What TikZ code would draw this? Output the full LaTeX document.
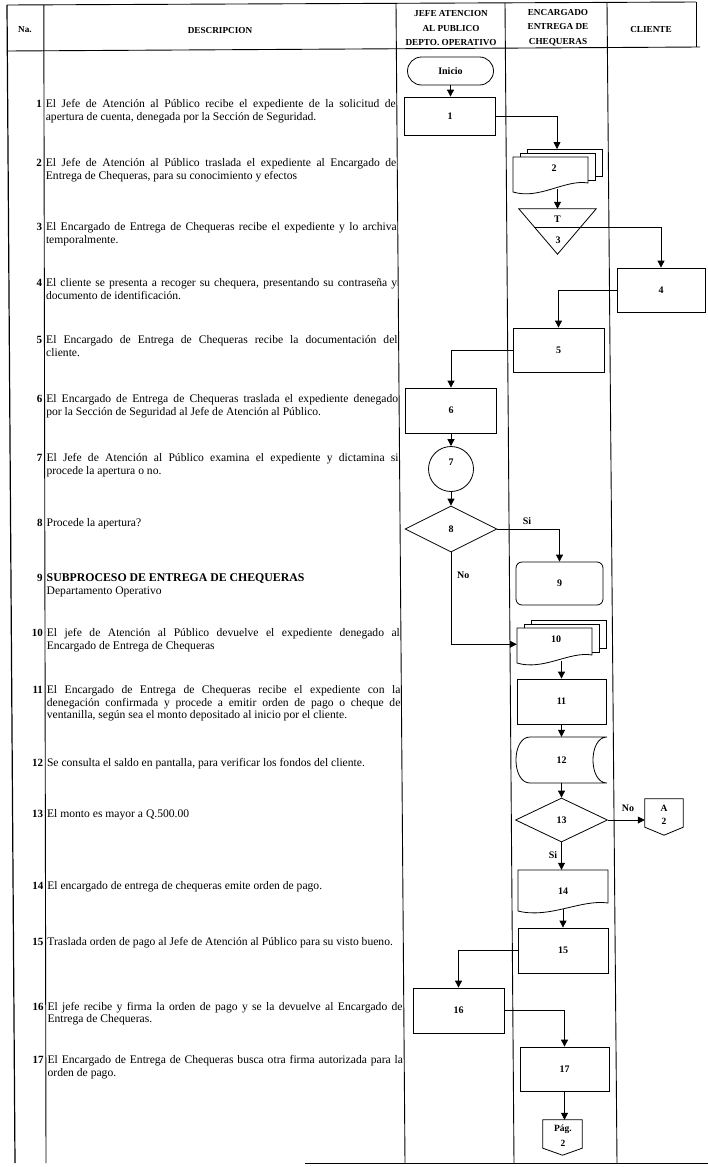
\documentclass[tikz,border=0pt]{standalone}
\usepackage{fontspec}
\setmainfont{Liberation Serif}
\usetikzlibrary{arrows.meta,shapes.geometric,calc}
\newcommand{\DocOutline}[5]{%
  \pgfmathsetmacro{\dcxa}{#2-0.3*(#2-#1)}%
  \pgfmathsetmacro{\dcxb}{#1+0.35*(#2-#1)}%
  \pgfmathsetmacro{\dcya}{#4-4}%
  \pgfmathsetmacro{\dcyb}{#5+8}%
  \draw[ln] (#1,#5) -- (#1,#3) -- (#2,#3) -- (#2,#4) .. controls (\dcxa,\dcya) and (\dcxb,\dcyb) .. (#1,#5) -- cycle;}
\begin{document}
\begin{tikzpicture}[x=1pt,y=-1pt,
  ln/.style={line width=0.8pt},
  tabline/.style={line width=0.9pt},
  box/.style={draw, line width=0.8pt, rectangle, inner sep=0pt, font=\fontsize{10}{12}\selectfont\bfseries},
  ghost/.style={rectangle, inner sep=0pt},
  flab/.style={inner sep=0pt, font=\fontsize{10}{12}\selectfont\bfseries},
  arr/.style={line width=0.8pt, -{Triangle[length=7pt,width=7pt]}},
  desc/.style={anchor=base west, align=justify, inner sep=0pt, font=\fontsize{11.6}{12.5}\selectfont},
  numl/.style={anchor=base east, inner sep=0pt, font=\fontsize{11}{12}\selectfont\bfseries},
  hdr/.style={align=center, inner sep=0pt, font=\fontsize{9.2}{14.5}\selectfont\bfseries},
  conn/.style={align=center, inner sep=0pt, font=\fontsize{9.5}{12.5}\selectfont\bfseries}
]
\useasboundingbox (0,0) rectangle (708,1167);
\fill[white] (0,0) rectangle (708,1167);

% ---------- table ----------
\draw[tabline] (7,5) -- (696,2);
\draw[tabline] (7,51) -- (700,47);
\draw[tabline, line width=1.2pt] (7,5) -- (15,1163);
\draw[tabline] (43.8,5) -- (46,1163);
\draw[tabline] (396,3) -- (405,1163);
\draw[tabline] (505,3) -- (514,1163);
\draw[tabline] (607,2.5) -- (617,1163);
\draw[tabline] (696,2) -- (696,47);
\draw[tabline] (305,1163) -- (708,1163);

% ---------- header ----------
\node[hdr] (hna) at (25,30) {Na.};
\node[hdr] (hdesc) at (220,30) {DESCRIPCION};
\node[hdr] (hjefe) at (451,28.5) {JEFE ATENCION\\AL PUBLICO\\DEPTO. OPERATIVO};
\node[hdr] (henc) at (558,27.5) {ENCARGADO\\ENTREGA DE\\CHEQUERAS};
\node[hdr] (hcli) at (651,29) {CLIENTE};

% ---------- descriptions ----------
\node[numl] (n1) at (42.0,107.5) {1};
\node[desc, text width=350pt] (t1) at (45.6,107.5) {El Jefe de Atención al Público recibe el expediente de la solicitud de\linebreak apertura de cuenta, denegada por la Sección de Seguridad.};
\node[numl] (n2) at (42.1,166.5) {2};
\node[desc, text width=350.4pt] (t2) at (45.7,166.5) {El Jefe de Atención al Público traslada el expediente al Encargado de\linebreak Entrega de Chequeras, para su conocimiento y efectos};
\node[numl] (n3) at (42.2,230.5) {3};
\node[desc, text width=350.8pt] (t3x) at (45.8,230.5) {El Encargado de Entrega de Chequeras recibe el expediente y lo archiva\linebreak temporalmente.};
\node[numl] (n4) at (42.3,286.5) {4};
\node[desc, text width=351.1pt] (t4) at (45.9,286.5) {El cliente se presenta a recoger su chequera, presentando su contraseña y\linebreak documento de identificación.};
\node[numl] (n5) at (42.4,343.5) {5};
\node[desc, text width=351.4pt] (t5) at (46.0,343.5) {El Encargado de Entrega de Chequeras recibe la documentación del\linebreak cliente.};
\node[numl] (n6) at (42.55,402.5) {6};
\node[desc, text width=351.8pt] (t6) at (46.1,402.5) {El Encargado de Entrega de Chequeras traslada el expediente denegado\linebreak por la Sección de Seguridad al Jefe de Atención al Público.};
\node[numl] (n7) at (42.67,461.5) {7};
\node[desc, text width=352.1pt] (t7) at (46.3,461.5) {El Jefe de Atención al Público examina el expediente y dictamina si\linebreak procede la apertura o no.};
\node[numl] (n8) at (42.8,526) {8};
\node[desc, text width=352pt] (t8) at (46.4,526) {Procede la apertura?};
\node[numl] (n9) at (42.9,581.5) {9};
\node[desc, text width=352.8pt] (t9) at (46.5,581.5) {{\fontsize{11.8}{12.5}\selectfont\bfseries SUBPROCESO DE ENTREGA DE CHEQUERAS}\\Departamento Operativo};
\node[numl] (n10) at (43.0,636.5) {10};
\node[desc, text width=353.1pt] (t10) at (46.6,636.5) {El jefe de Atención al Público devuelve el expediente denegado al\linebreak Encargado de Entrega de Chequeras};
\node[numl] (n11) at (43.1,693.5) {11};
\node[desc, text width=353.5pt] (t11) at (46.7,693.5) {El Encargado de Entrega de Chequeras recibe el expediente con la\linebreak denegación confirmada y procede a emitir orden de pago o cheque de\linebreak ventanilla, según sea el monto depositado al inicio por el cliente.};
\node[numl] (n12) at (43.25,766.5) {12};
\node[desc, text width=354pt] (t12) at (46.8,766.5) {Se consulta el saldo en pantalla, para verificar los fondos del cliente.};
\node[numl] (n13) at (43.34,817.5) {13};
\node[desc, text width=354pt] (t13) at (46.9,817.5) {El monto es mayor a Q.500.00};
\node[numl] (n14) at (43.5,889) {14};
\node[desc, text width=354pt] (t14) at (47.1,889) {El encargado de entrega de chequeras emite orden de pago.};
\node[numl] (n15) at (43.57,945) {15};
\node[desc, text width=354.5pt] (t15) at (47.2,945) {Traslada orden de pago al Jefe de Atención al Público para su visto bueno.};
\node[numl] (n16) at (43.7,1010) {16};
\node[desc, text width=355.1pt] (t16) at (47.3,1010) {El jefe recibe y firma la orden de pago y se la devuelve al Encargado de\linebreak Entrega de Chequeras.};
\node[numl] (n17) at (43.8,1063.5) {17};
\node[desc, text width=355.4pt] (t17) at (47.4,1063.5) {El Encargado de Entrega de Chequeras busca otra firma autorizada para la\linebreak orden de pago.};

% ---------- flow ----------
\node[box, rounded corners=14pt, minimum width=86pt, minimum height=28pt] (ini) at (450.5,71) {Inicio};
\node[box, minimum width=91pt, minimum height=38pt] (b1) at (450,116) {1};
\draw[arr] (ini.south) -- (ini.south |- b1.north);

% doc 2 (multiple documents)
\node[ghost, minimum width=75pt, minimum height=32pt] (d2) at (550.5,173) {};
\draw[ln] (527,153) -- (527,149) -- (602,149) -- (602,176) -- (595,176);
\draw[ln] (520,157) -- (520,153) -- (595,153) -- (595,180) -- (588,180);
\DocOutline{513}{588}{157}{183}{192}
\node[flab] (d2t) at (554,168) {2};
\coordinate (d2top) at (557,149);
\draw[arr] (b1.east) -| (d2top);

% triangle 3
\node[ghost, minimum width=77pt, minimum height=45pt] (t3) at (557.5,231.5) {};
\draw[ln] (t3.north west) -- (t3.north east) -- (t3.south) -- cycle;
\draw[ln] (534.4,227) -- (580.6,227);
\coordinate (t3r) at (580.6,227);
\node[flab] (t3a) at (557.5,219) {T};
\node[flab] (t3b) at (558,240) {3};
\draw[arr] (t3.north |- d2.south) -- (t3.north);

\node[box, minimum width=88pt, minimum height=44pt] (b4) at (661,290) {4};
\draw[arr] (t3r) -| (b4.north);

\node[box, minimum width=91pt, minimum height=44pt] (b5) at (558.5,350) {5};
\draw[arr] (b4.west) -| (b5.north);

\node[box, minimum width=91pt, minimum height=45pt] (b6) at (451,410.5) {6};
\draw[arr] (b5.west) -| (b6.north);

\node[circle, draw, line width=0.8pt, inner sep=0pt, minimum size=45pt] (c7) at (451,469) {};
\node[flab] (c7t) at (451,462) {7};
\draw[arr] (b6.south) -- (c7.north);

\node[diamond, draw, line width=0.8pt, inner sep=0pt, minimum width=92pt, minimum height=46pt, flab] (d8) at (451,529) {8};
\draw[arr] (c7.south) -- (d8.north);

\node[box, rounded corners=6pt, minimum width=87pt, minimum height=43pt] (b9) at (559.5,583.5) {9};
\draw[arr] (d8.east) -| (b9.north);
\node[flab] (si1) at (527,521.5) {Si};

% doc 10 (multiple documents)
\node[ghost, minimum width=75pt, minimum height=32.5pt] (d10) at (554.5,644.25) {};
\draw[ln] (531,624) -- (531,620) -- (606,620) -- (606,648) -- (599,648);
\draw[ln] (524,628) -- (524,624) -- (599,624) -- (599,652) -- (592,652);
\DocOutline{517}{592}{628}{655}{663}
\node[flab] (d10t) at (556,639) {10};
\draw[arr] (d8.south) |- (d10.west);
\node[flab, anchor=west] (no1) at (457,575) {No};

\node[box, minimum width=89pt, minimum height=45pt] (b11) at (561.5,701.5) {11};
\draw[arr] (b11.north |- d10.south) -- (b11.north);

% stored data 12
\node[ghost, minimum width=91pt, minimum height=46pt, flab] (s12) at (561.5,760) {12};
\draw[ln] (530,737) -- (607,737) .. controls (588.3,737) and (588.3,783) .. (607,783) -- (530,783) .. controls (511.3,783) and (511.3,737) .. (530,737) -- cycle;
\draw[arr] (b11.south) -- (s12.north);

\node[diamond, draw, line width=0.8pt, inner sep=0pt, minimum width=92pt, minimum height=44pt, flab] (d13) at (561.5,820) {13};
\draw[arr] (s12.south) -- (d13.north);

% off-page connector A/2
\node[ghost, minimum width=38pt, minimum height=36pt] (cA) at (664,817) {};
\draw[ln] (cA.north west) -- (cA.north east) -- ($(cA.south east)+(0,-8)$) -- (cA.south) -- ($(cA.south west)+(0,-8)$) -- cycle;
\node[conn] (cAt) at (664,815) {A\\2};
\draw[arr] (d13.east) -- (d13.east -| cA.west);
\node[flab] (no2) at (628,808) {No};

% document 14
\node[ghost, minimum width=90pt, minimum height=38.5pt] (d14) at (563,889.25) {};
\DocOutline{518}{608}{870}{903}{911}
\node[flab] (d14t) at (563,891) {14};
\draw[arr] (d13.south) -- (d13.south |- d14.north);
\node[flab] (si2) at (553,855) {Si};

\node[box, minimum width=90pt, minimum height=45pt] (b15) at (563,950.5) {15};
\draw[arr] (d14.south) -- (b15.north);

\node[box, minimum width=91pt, minimum height=45pt] (b16) at (458.5,1010.5) {16};
\draw[arr] (b15.west) -| (b16.north);

\node[box, minimum width=89pt, minimum height=44pt] (b17) at (564.5,1069) {17};
\draw[arr] (b16.east) -| (b17.north);

% off-page connector Pag 2
\node[ghost, minimum width=39pt, minimum height=35pt] (cP) at (562.5,1137.5) {};
\draw[ln] (cP.north west) -- (cP.north east) -- ($(cP.south east)+(0,-7)$) -- (cP.south) -- ($(cP.south west)+(0,-7)$) -- cycle;
\node[conn] (cPt) at (563,1135.5) {Pág.\\[2pt]2};
\draw[arr] (b17.south) -- (b17.south |- cP.north);
\end{tikzpicture}
\end{document}
